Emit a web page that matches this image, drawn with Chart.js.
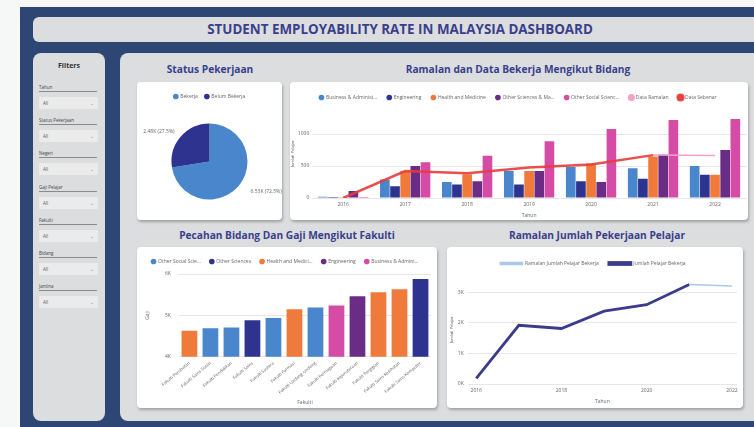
<!DOCTYPE html>
<html>
<head>
<meta charset="utf-8">
<script src="https://cdn.jsdelivr.net/npm/chart.js@4.4.0/dist/chart.umd.min.js"></script>
<style>
html, body { margin: 0; padding: 0; width: 754px; height: 427px; overflow: hidden; background: #f6f7f7; font-family: "Open Sans", sans-serif; }
.abs { position: absolute; }
#frame { left: 20px; top: 7px; width: 760px; height: 430px; background: #2d4673; }
#titlebar { left: 33px; top: 17px; width: 734px; height: 25px; background: #dcdddf; border-radius: 6px; text-align: center; line-height: 25px; font-weight: 700; font-size: 13.4px; color: #3a3f8c; }
#filters { left: 33px; top: 53px; width: 72px; height: 368px; background: #dcdddf; border-radius: 8px; }
#main { left: 120px; top: 53px; width: 660px; height: 368px; background: #dcdddf; border-radius: 8px; }
.ftitle { left: 33px; width: 72px; top: 61px; text-align: center; font-weight: 700; font-size: 7px; color: #333; }
.flabel { left: 39px; width: 58px; font-size: 4.5px; color: #444; border-bottom: 1px solid #8a8a8a; height: 7px; line-height: 7px; }
.fbox { left: 39px; width: 59px; height: 12px; background: #ebebec; font-size: 4.5px; color: #555; line-height: 12px; }
.fbox span { position: absolute; left: 4px; }
.fbox i { position: absolute; right: 4px; font-style: normal; color: #888; }
.card { background: #fff; border-radius: 4px; box-shadow: 1px 2px 3px rgba(0,0,0,0.28); }
.ctitle { font-weight: 700; font-size: 10.2px; color: #3a3f8c; text-align: center; white-space: nowrap; transform: translateX(-50%); }
</style>
</head>
<body>
<div id="frame" class="abs"></div>
<div id="titlebar" class="abs">STUDENT EMPLOYABILITY RATE IN MALAYSIA DASHBOARD</div>
<div id="filters" class="abs"></div>
<div class="abs ftitle">Filters</div>
<div id="filterList"></div>
<div id="main" class="abs"></div>

<div class="abs ctitle" style="left:210px;top:62px;">Status Pekerjaan</div>
<div class="abs ctitle" style="left:518px;top:62px;">Ramalan dan Data Bekerja Mengikut Bidang</div>
<div class="abs ctitle" style="left:287px;top:228px;">Pecahan Bidang Dan Gaji Mengikut Fakulti</div>
<div class="abs ctitle" style="left:597px;top:228px;">Ramalan Jumlah Pekerjaan Pelajar</div>

<div class="abs card" style="left:137px;top:82px;width:145px;height:138px;"><canvas id="pie"></canvas></div>
<div class="abs card" style="left:290px;top:82px;width:458px;height:138px;"><canvas id="bidang"></canvas></div>
<div class="abs card" style="left:137px;top:247px;width:300px;height:161px;"><canvas id="gaji"></canvas></div>
<div class="abs card" style="left:447px;top:247px;width:296px;height:161px;"><canvas id="ramalan"></canvas></div>

<script>
// ---- data ----
const filterNames = ["Tahun", "Status Pekerjaan", "Negeri", "Gaji Pelajar", "Fakulti", "Bidang", "Jantina"];

const statusLabels = ["Bekerja", "Belum Bekerja"];
const statusCounts = [6530, 2480];

const years = ["2016", "2017", "2018", "2019", "2020", "2021", "2022"];
const business = [20, 290, 250, 420, 485, 465, 500];
const engineering = [15, 185, 210, 210, 260, 300, 365];
const health = [10, 420, 370, 420, 540, 650, 365];
const otherSci = [110, 500, 260, 420, 250, 675, 750];
const otherSoc = [15, 560, 660, 885, 1080, 1220, 1235];
const dataRamalan = [null, null, null, null, null, 670, 665];
const dataSebenar = [0, 420, 385, 475, 525, 670, null];
const bidangTicks = [0, 500, 1000];

const gajiFields = ["Other Social Sciences", "Other Sciences", "Health and Medicine", "Engineering", "Business & Administration"];
const fakulti = ["Fakulti Perubatan", "Fakulti Sains Sosial", "Fakulti Pendidikan", "Fakulti Sains", "Fakulti Sastera", "Fakulti Farmasi",
  "Fakulti Undang-Undang", "Fakulti Perniagaan", "Fakulti Kejuruteraan", "Fakulti Pergigian", "Fakulti Sains Kesihatan", "Fakulti Sains Komputer"];
const fakultiField = [2, 0, 0, 1, 0, 2, 0, 4, 3, 2, 2, 1];
const fakultiGaji = [4630, 4690, 4705, 4880, 4935, 5150, 5190, 5240, 5460, 5560, 5630, 5880];
const gajiTicks = [4000, 5000, 6000];

const trendYears = [2016, 2017, 2018, 2019, 2020, 2021, 2022];
const jumlahBekerja = [180, 1920, 1815, 2380, 2590, 3255, null];
const ramalanJumlah = [null, null, null, null, null, 3255, 3200];
const jumlahTicks = [0, 1000, 2000, 3000];

// ---- colours ----
const C_LBLUE = "#4a86cb", C_NAVY = "#2f3390", C_ORANGE = "#ef7a3c", C_PURPLE = "#6a2c85", C_PINK = "#d54ca6";

// filter panel
let fl = document.getElementById("filterList");
filterNames.forEach((n, i) => {
  let top = 84 + i * 33.2;
  fl.insertAdjacentHTML("beforeend",
    `<div class="abs flabel" style="top:${top}px">${n}</div>` +
    `<div class="abs fbox" style="top:${top + 13}px"><span>All</span><i>&#8964;</i></div>`);
});

Chart.defaults.font.family = '"Open Sans", sans-serif';
Chart.defaults.font.size = 5;
Chart.defaults.color = "#666";
Chart.defaults.animation = false;
Chart.defaults.maintainAspectRatio = false;
Chart.defaults.plugins.tooltip.enabled = false;

function shorten(maxLen) {
  return (chart) => {
    let gen = chart.config.type === "pie"
      ? Chart.overrides.doughnut.plugins.legend.labels.generateLabels
      : Chart.defaults.plugins.legend.labels.generateLabels;
    return gen(chart).map((l) => {
      if (l.text && l.text.length > maxLen) l.text = l.text.slice(0, maxLen) + "...";
      return l;
    });
  };
}

function legendLabels(maxLen, extra) {
  return Object.assign({ usePointStyle: true, pointStyle: "circle", boxWidth: 4, boxHeight: 4, padding: 7, color: "#666", font: { size: 5 }, generateLabels: shorten(maxLen) }, extra || {});
}

const fixedTicks = (values) => (scale) => { scale.ticks = values.map((v) => ({ value: v })); };
const noTickMarks = { display: false, drawTicks: false };

// pie labels drawn outside the slices
const pieLabels = {
  id: "pieLabels",
  afterDatasetsDraw(chart) {
    let ctx = chart.ctx;
    let meta = chart.getDatasetMeta(0);
    let total = statusCounts.reduce((a, b) => a + b, 0);
    ctx.save();
    ctx.font = '5px "Open Sans"';
    ctx.fillStyle = "#666";
    ctx.textBaseline = "middle";
    meta.data.forEach((arc, i) => {
      let mid = (arc.startAngle + arc.endAngle) / 2;
      let right = Math.cos(mid) >= 0;
      let r = arc.outerRadius + 8;
      let x = arc.x + Math.cos(mid) * r + (right ? 6 : 0);
      let y = arc.y + Math.sin(mid) * r;
      ctx.textAlign = right ? "left" : "right";
      let txt = (statusCounts[i] / 1000).toFixed(2) + "K (" + (statusCounts[i] / total * 100).toFixed(1) + "%)";
      ctx.fillText(txt, x, y);
    });
    ctx.restore();
  },
};

new Chart(document.getElementById("pie"), {
  type: "pie",
  data: {
    labels: statusLabels,
    datasets: [{ data: statusCounts, backgroundColor: [C_LBLUE, C_NAVY], borderWidth: 0, radius: 38 }],
  },
  options: {
    layout: { padding: { top: 5, bottom: 6 } },
    plugins: { legend: { position: "top", labels: legendLabels(20) } },
  },
  plugins: [pieLabels],
});

// line datasets listed last in the legend
const legendRank = (item) => (item.datasetIndex < 2 ? 10 - item.datasetIndex : item.datasetIndex);

new Chart(document.getElementById("bidang"), {
  type: "bar",
  data: {
    labels: years,
    datasets: [
      { label: "Data Sebenar", type: "line", data: dataSebenar, borderColor: "rgba(232,60,58,0.9)", backgroundColor: "#e8443f", borderWidth: 2.5, pointRadius: 0, pointStyle: "circle", order: 0 },
      { label: "Data Ramalan", type: "line", data: dataRamalan, borderColor: "#f4a3c4", backgroundColor: "#f4a3c4", borderWidth: 1.5, pointRadius: 0, pointStyle: "circle", order: 0 },
      { label: "Business & Administration", data: business, backgroundColor: C_LBLUE, order: 1 },
      { label: "Engineering", data: engineering, backgroundColor: C_NAVY, order: 1 },
      { label: "Health and Medicine", data: health, backgroundColor: C_ORANGE, order: 1 },
      { label: "Other Sciences & Mathematics", data: otherSci, backgroundColor: C_PURPLE, order: 1 },
      { label: "Other Social Sciences", data: otherSoc, backgroundColor: C_PINK, order: 1 },
    ],
  },
  options: {
    categoryPercentage: 0.82,
    barPercentage: 0.95,
    layout: { padding: { top: 3, left: 0, right: 2, bottom: 1 } },
    plugins: {
      legend: { position: "top", labels: legendLabels(19, { padding: 10, sort: (a, b) => legendRank(a) - legendRank(b) }) },
    },
    scales: {
      x: { grid: noTickMarks, border: { display: false }, ticks: { padding: 4 }, title: { display: true, text: "Tahun", padding: { top: 1, bottom: 0 } } },
      y: {
        min: 0, max: 1375,
        afterBuildTicks: fixedTicks(bidangTicks),
        ticks: { padding: 3, callback: (v) => String(v) },
        grid: { color: "#e6e6e6", drawTicks: false }, border: { display: false },
        title: { display: true, text: "Jumlah Pelajar", padding: 0, font: { size: 4 } },
      },
    },
  },
});

const gajiColors = [C_LBLUE, C_NAVY, C_ORANGE, C_PURPLE, C_PINK];
new Chart(document.getElementById("gaji"), {
  type: "bar",
  data: {
    labels: fakulti,
    datasets: gajiFields.map((f, k) => ({
      label: f,
      data: fakultiGaji.map((v, i) => (fakultiField[i] === k ? v : null)),
      backgroundColor: gajiColors[k],
    })),
  },
  options: {
    barPercentage: 0.75,
    categoryPercentage: 1,
    layout: { padding: { top: 3, left: 2, right: 6, bottom: 2 } },
    plugins: { legend: { position: "top", labels: legendLabels(17, { padding: 9 }) } },
    scales: {
      x: {
        stacked: true,
        grid: noTickMarks, border: { display: false },
        ticks: { minRotation: 40, maxRotation: 40, padding: 4, font: { size: 4.3 } },
        title: { display: true, text: "Fakulti", padding: { top: 1, bottom: 0 } },
      },
      y: {
        min: 4000, max: 6000,
        afterBuildTicks: fixedTicks(gajiTicks),
        ticks: { padding: 8, callback: (v) => v / 1000 + "K" },
        grid: { color: "#e6e6e6", drawTicks: false }, border: { display: false },
        title: { display: true, text: "Gaji", padding: 6 },
      },
    },
  },
});

new Chart(document.getElementById("ramalan"), {
  type: "line",
  data: {
    labels: trendYears,
    datasets: [
      { label: "Ramalan Jumlah Pelajar Bekerja", data: ramalanJumlah, borderColor: "#a9c9ea", backgroundColor: "#a9c9ea", borderWidth: 1.5, pointRadius: 0 },
      { label: "Jumlah Pelajar Bekerja", data: jumlahBekerja, borderColor: "#3b3d8c", backgroundColor: "#3b3d8c", borderWidth: 2.8, pointRadius: 0 },
    ],
  },
  options: {
    layout: { padding: { top: 4, left: 2, right: 6, bottom: 3 } },
    plugins: { legend: { position: "top", labels: legendLabels(40, { usePointStyle: false, boxWidth: 22, boxHeight: 2, padding: 10 }) } },
    scales: {
      x: {
        type: "linear", min: 2015.8, max: 2022.12,
        afterBuildTicks: fixedTicks(trendYears.filter((y, i) => i % 2 === 0)),
        ticks: { callback: (v) => String(v), padding: 4 },
        grid: noTickMarks, border: { display: false },
        title: { display: true, text: "Tahun", padding: { top: 1, bottom: 0 } },
      },
      y: {
        min: 0, max: 3530,
        afterBuildTicks: fixedTicks(jumlahTicks),
        ticks: { callback: (v) => v / 1000 + "K", padding: 4 },
        grid: { color: "#e6e6e6", drawTicks: false }, border: { display: false },
        title: { display: true, text: "Jumlah Pelajar", padding: 0, font: { size: 4 } },
      },
    },
  },
});
</script>
</body>
</html>
